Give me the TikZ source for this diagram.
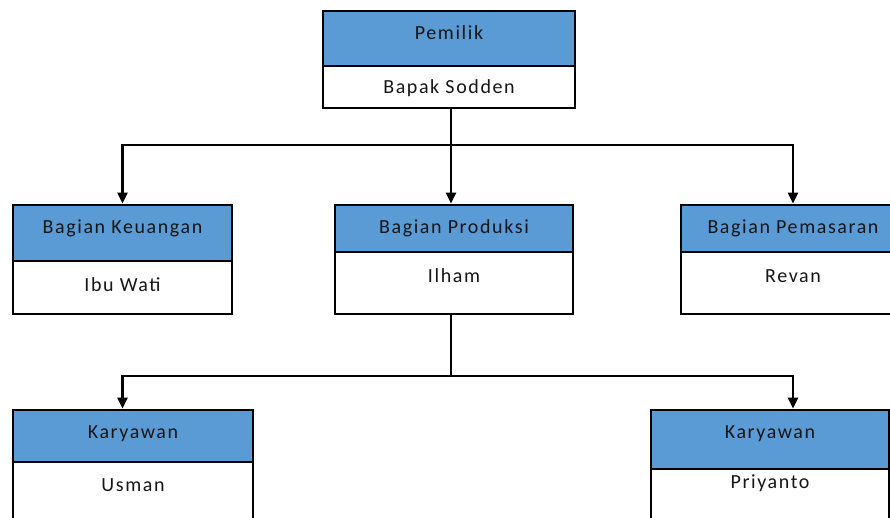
\documentclass[tikz,border=0pt]{standalone}
\usepackage{fontspec}
\setmainfont{Carlito}[LetterSpace=8]
\usetikzlibrary{arrows.meta}
\definecolor{headblue}{RGB}{91,155,213}
\definecolor{inkgray}{RGB}{22,22,22}

\begin{document}
\begin{tikzpicture}[x=1pt, y=-1pt,
    box/.style={draw, line width=2.7pt, rectangle, inner sep=0pt},
    head/.style={box, fill=headblue},
    body/.style={box, fill=white},
    txt/.style={font=\fontsize{20}{24}\selectfont, text=inkgray, inner sep=0pt},
    stem/.style={line width=2.3pt},
    link/.style={stem, -{Triangle[width=10pt,length=11pt]}}]

    \useasboundingbox (0,0) rectangle (890,518);
    \clip (0,0) rectangle (890,518);

    % Boxes: name/left/right/top/divider/bottom/title y/name y/title/person
    \foreach \id/\l/\r/\t/\m/\b/\ty/\by/\hd/\nm in {
        pemilik/323/575/11/66/108/33/88/Pemilik/Bapak Sodden,
        keuangan/13/232/205/261/314/228/285/Bagian Keuangan/Ibu Wati,
        produksi/335/573/205/252/314/228/276/Bagian Produksi/Ilham,
        pemasaran/681/905/205/252/314/228/276/Bagian Pemasaran/Revan,
        karyawanA/13/253/410/462/520/434/485/Karyawan/Usman,
        karyawanB/651/889/410/469/520/434/483/Karyawan/Priyanto}
    {
        \node[head, minimum width={(\r-\l)*1pt}, minimum height={(\m-\t)*1pt}]
            (\id H) at ({(\l+\r)/2},{(\t+\m)/2}) {};
        \node[body, minimum width={(\r-\l)*1pt}, minimum height={(\b-\m)*1pt}]
            (\id B) at ({(\l+\r)/2},{(\m+\b)/2}) {};
        \node[txt] (\id Title) at ({(\l+\r)/2},\ty) {\hd};
        \node[txt] (\id Name) at ({(\l+\r)/2},\by) {\nm};
    }

    % Connectors
    \coordinate (busTop) at (451,145);
    \coordinate (busLow) at (451,376);

    \draw[stem] (pemilikB.south -| busTop) -- (busTop);
    \draw[link] (busTop) -| (keuanganH.north);
    \draw[link] (busTop) -- (produksiH.north -| busTop);
    \draw[link] (busTop) -| (pemasaranH.north);

    \draw[stem] (produksiB.south -| busLow) -- (busLow);
    \draw[link] (busLow) -| (keuanganH.north |- karyawanAH.north);
    \draw[link] (busLow) -| (pemasaranH.north |- karyawanBH.north);
\end{tikzpicture}
\end{document}
